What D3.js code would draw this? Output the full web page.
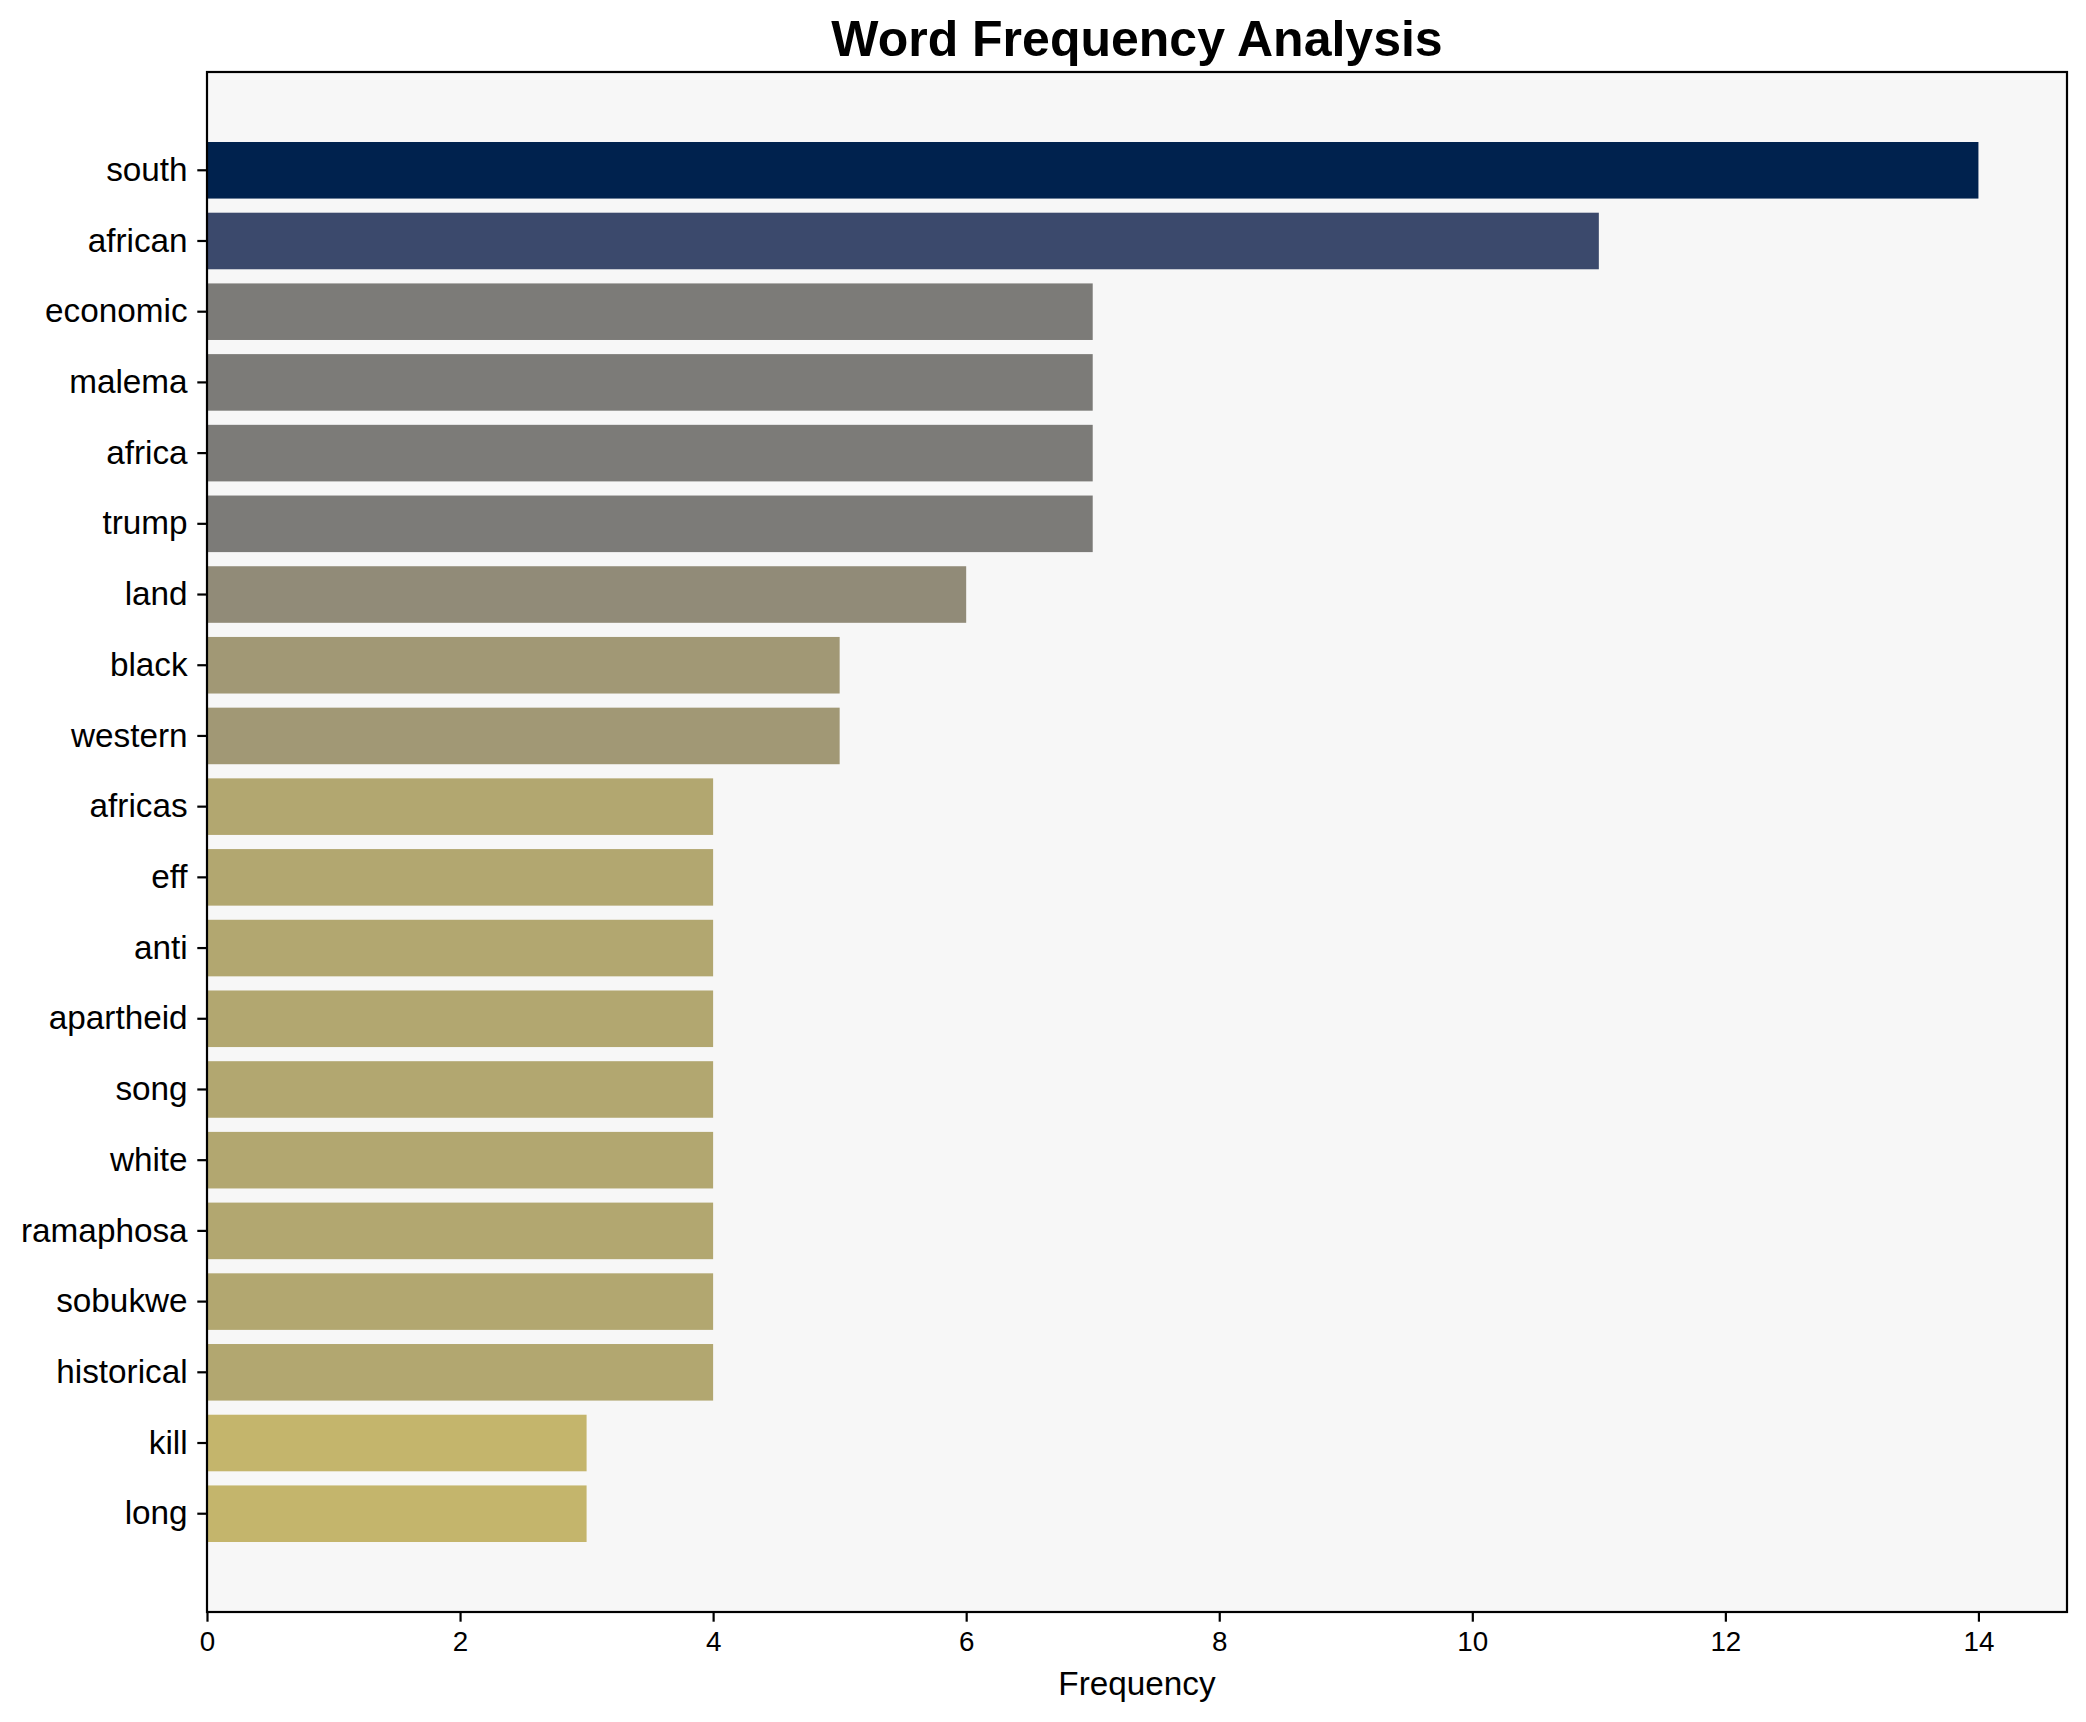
<!DOCTYPE html>
<html>
<head>
<meta charset="utf-8">
<script src="https://cdn.jsdelivr.net/npm/d3@7"></script>
<style>
  body { margin: 0; background: #ffffff; }
  text { font-family: "Liberation Sans", Arial, sans-serif; }
</style>
</head>
<body>
<script>
// word counts
var words = ["south", "african", "economic", "malema", "africa", "trump", "land",
             "black", "western", "africas", "eff", "anti", "apartheid", "song",
             "white", "ramaphosa", "sobukwe", "historical", "kill", "long"];
var counts = [14, 11, 7, 7, 7, 7, 6, 5, 5, 4, 4, 4, 4, 4, 4, 4, 4, 4, 3, 3];
var xTicks = [0, 2, 4, 6, 8, 10, 12, 14];

var width = 2086, height = 1722;
// plot box (window.top is taken, so prefixed names)
var plotLeft = 207, plotRight = 2067, plotTop = 72, plotBottom = 1612;

var svg = d3.select("body")
            .append("svg")
            .attr("width", width)
            .attr("height", height);

var data = words.map(function(w, i) { return {word: w, count: counts[i]}; });

var x = d3.scaleLinear().domain([0, 14.7]).range([plotLeft, plotRight]);
var y = d3.scaleBand().domain(words).range([plotTop, plotBottom])
          .paddingInner(0.2).paddingOuter(0.99);

// reversed cividis over 0..14, stops taken from matplotlib's table
var cividisStops = ["#00224e", "#3b496c", "#7c7b78", "#918b78", "#a19875", "#b2a770", "#c4b56c", "#fee838"];
var color = d3.scaleLinear()
    .domain([14, 11, 7, 6, 5, 4, 3, 0])
    .range(cividisStops)
    .interpolate(d3.interpolateRgb);

// plot background
svg.append("rect")
   .attr("x", plotLeft).attr("y", plotTop)
   .attr("width", plotRight - plotLeft).attr("height", plotBottom - plotTop)
   .attr("fill", "#f7f7f7");

svg.selectAll("rect.bar")
   .data(data)
   .enter()
   .append("rect")
   .attr("class", "bar")
   .attr("x", x(0))
   .attr("y", function(d) { return y(d.word); })
   .attr("width", function(d) { return x(d.count) - x(0); })
   .attr("height", y.bandwidth())
   .attr("fill", function(d) { return color(d.count); });

// axes
var xAxis = svg.append("g")
   .attr("transform", "translate(0," + plotBottom + ")")
   .call(d3.axisBottom(x).tickValues(xTicks).tickSize(9.7).tickPadding(9.7).tickSizeOuter(0));
xAxis.selectAll("text").attr("font-size", 27.8).attr("fill", "#000")
     .style("font-family", "'Liberation Sans', Arial, sans-serif");
xAxis.selectAll("line").attr("stroke-width", 2.2).attr("stroke", "#000");
xAxis.select(".domain").remove();

var yAxis = svg.append("g")
   .attr("transform", "translate(" + plotLeft + ",0)")
   .call(d3.axisLeft(y).tickSize(9.7).tickPadding(9.7).tickSizeOuter(0));
yAxis.selectAll("text").attr("font-size", 33.3).attr("fill", "#000")
     .style("font-family", "'Liberation Sans', Arial, sans-serif");
yAxis.selectAll("line").attr("stroke-width", 2.2).attr("stroke", "#000");
yAxis.select(".domain").remove();

// frame
svg.append("rect")
   .attr("x", plotLeft).attr("y", plotTop)
   .attr("width", plotRight - plotLeft).attr("height", plotBottom - plotTop)
   .attr("fill", "none")
   .attr("stroke", "#000")
   .attr("stroke-width", 2.2);

svg.append("text")
   .attr("x", (plotLeft + plotRight) / 2).attr("y", 56)
   .attr("text-anchor", "middle")
   .attr("font-size", 50).attr("font-weight", "bold")
   .text("Word Frequency Analysis");

svg.append("text")
   .attr("x", (plotLeft + plotRight) / 2).attr("y", 1695)
   .attr("text-anchor", "middle")
   .attr("font-size", 33.3)
   .text("Frequency");
</script>
</body>
</html>
